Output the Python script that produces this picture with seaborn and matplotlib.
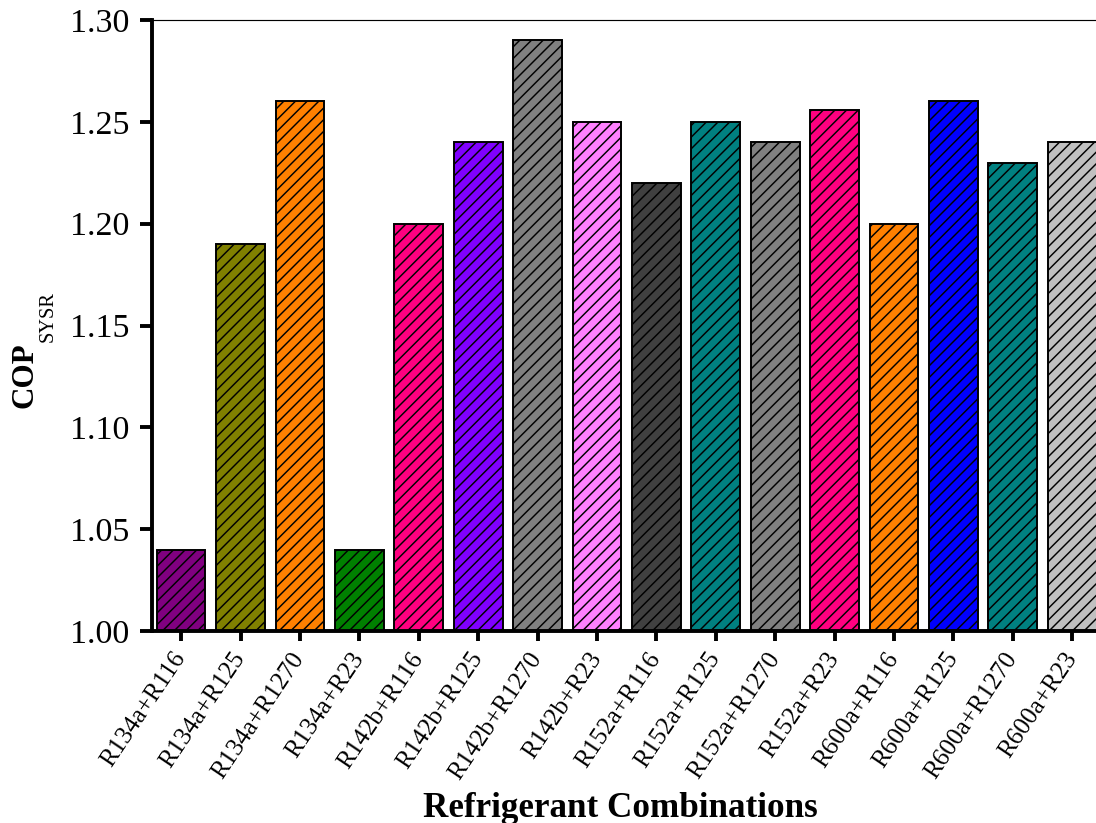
import matplotlib
matplotlib.use("Agg")
import matplotlib.pyplot as plt
import seaborn as sns
import pandas as pd

combinations = ["R134a+R116", "R134a+R125", "R134a+R1270", "R134a+R23",
                "R142b+R116", "R142b+R125", "R142b+R1270", "R142b+R23",
                "R152a+R116", "R152a+R125", "R152a+R1270", "R152a+R23",
                "R600a+R116", "R600a+R125", "R600a+R1270", "R600a+R23"]
cop_sysr = [1.04, 1.19, 1.26, 1.04,
            1.20, 1.24, 1.29, 1.25,
            1.22, 1.25, 1.24, 1.256,
            1.20, 1.26, 1.23, 1.24]
bar_colors = ["#800080", "#808000", "#FF8000", "#008000",
              "#FF0080", "#8000FF", "#808080", "#FF80FF",
              "#404040", "#008080", "#808080", "#FF0080",
              "#FF8000", "#0000FF", "#008080", "#C0C0C0"]
y_ticks = [1.00, 1.05, 1.10, 1.15, 1.20, 1.25, 1.30]

sns.set_style("white")
plt.rcParams["font.family"] = ["Liberation Serif", "DejaVu Serif"]
plt.rcParams["hatch.linewidth"] = 0.75
plt.rcParams["hatch.color"] = "black"
for key in ["text.color", "axes.labelcolor", "xtick.color", "ytick.color", "axes.edgecolor"]:
    plt.rcParams[key] = "black"

W, H, DPI = 1096, 823, 140
fig = plt.figure(figsize=(W / DPI, H / DPI), dpi=DPI)
ax = fig.add_axes([152 / W, 1 - 631 / H, 1 - 152 / W, (631 - 20) / H])

df = pd.DataFrame({"combo": combinations, "cop": cop_sysr})
sns.barplot(data=df, x="combo", y="cop", hue="combo", palette=bar_colors,
            width=0.82, edgecolor="black", linewidth=1.0, saturation=1,
            legend=False, ax=ax, zorder=2)
for p in ax.patches:
    p.set_hatch("////")

ax.set_ylim(1.00, 1.30)
ax.set_xlim(-0.49, 15.4)
ax.set_yticks(y_ticks)
ax.set_yticklabels([f"{t:.2f}" for t in y_ticks], fontsize=17.5)
ax.set_xticks(range(len(combinations)))
ax.set_xticklabels(combinations, rotation=56, ha="right", va="center",
                   rotation_mode="anchor", fontsize=12.9)

ax.spines["right"].set_visible(False)
ax.spines["left"].set_linewidth(2.0)
ax.spines["bottom"].set_linewidth(2.0)
ax.spines["top"].set_linewidth(0.6)
ax.tick_params(axis="y", which="major", direction="out", length=6, width=2.0,
               left=True, pad=5.5, colors="black")
ax.tick_params(axis="x", which="major", direction="out", length=5, width=2.0,
               bottom=True, pad=7, colors="black")

# x-axis title
ax.set_xlabel("Refrigerant Combinations", fontsize=18, fontweight="bold")
ax.xaxis.label.set_va("baseline")
ax.xaxis.set_label_coords((620 - 152) / 944, (631 - 817) / 611)

# y-axis title: bold "COP" with a dropped, smaller "SYSR" subscript
ax.set_ylabel("")
fig.text(33 / W, 1 - 408 / H, "COP", rotation=90, rotation_mode="anchor",
         ha="left", va="baseline", fontsize=16, fontweight="bold")
fig.text(53 / W, 1 - 342 / H, "SYSR", rotation=90, rotation_mode="anchor",
         ha="left", va="baseline", fontsize=10.5)

fig.savefig("out.png", dpi=DPI)
